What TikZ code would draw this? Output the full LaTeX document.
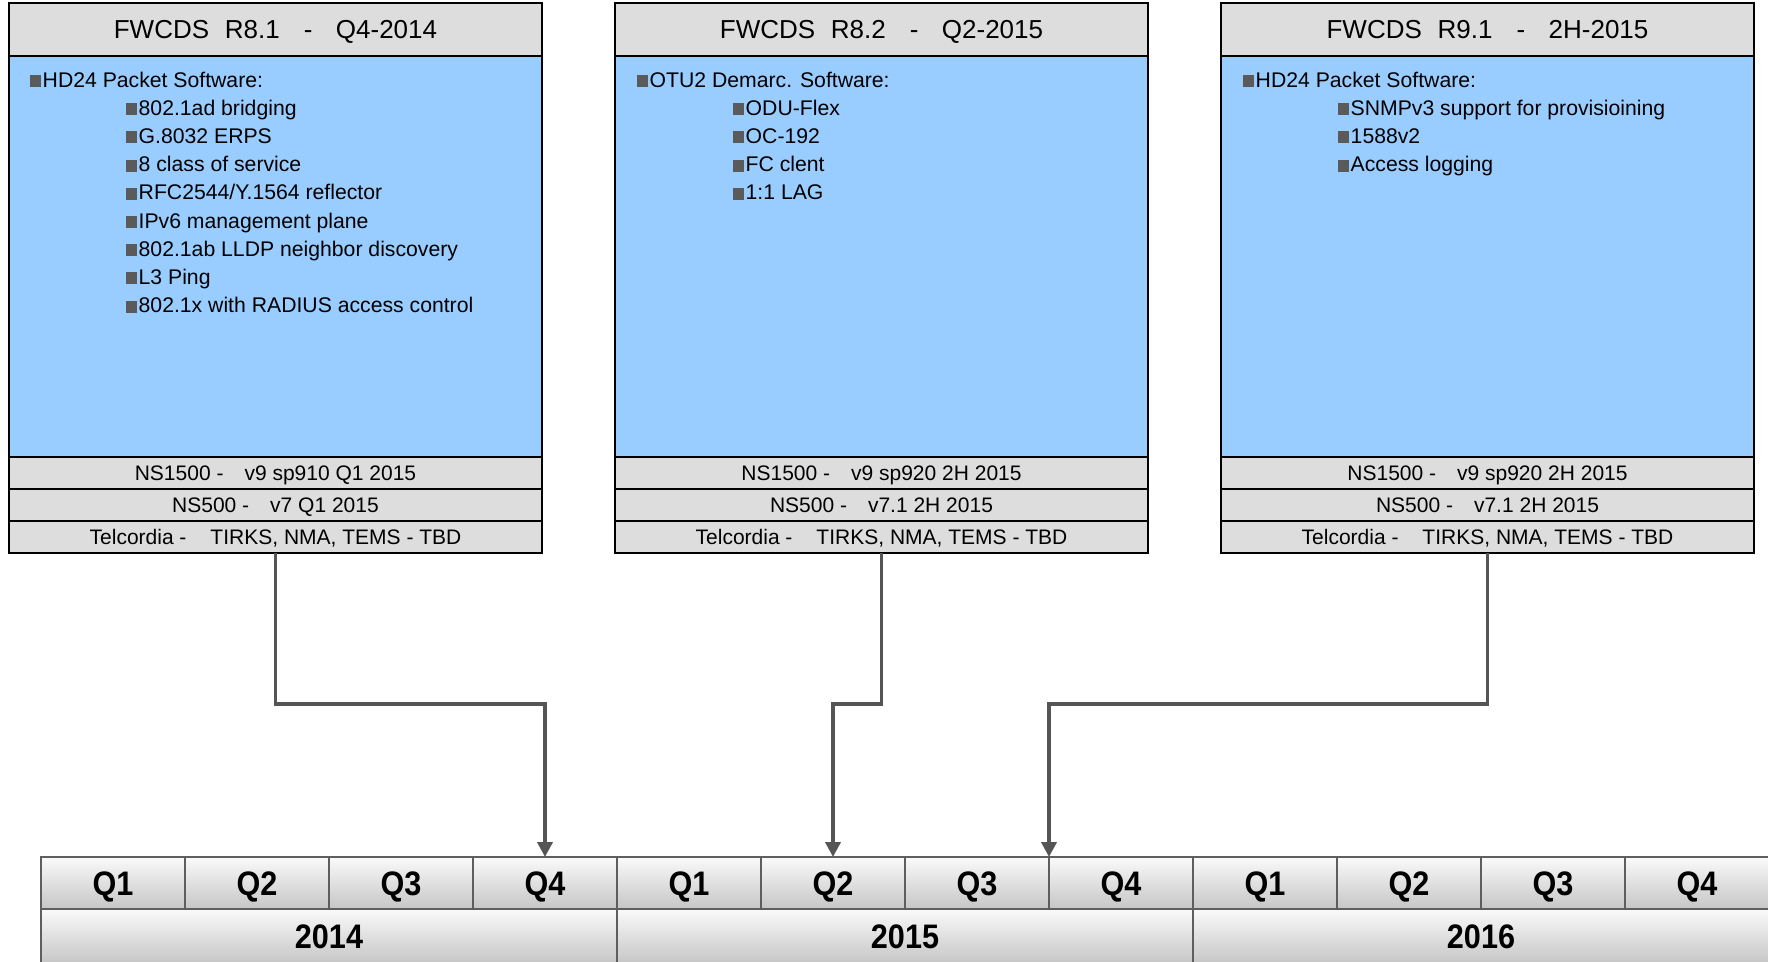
\documentclass[tikz,border=0pt]{standalone}
\usepackage{fontspec}
\setmainfont{Liberation Sans}
\usepackage{graphicx}
\usetikzlibrary{arrows.meta}
\definecolor{hdrgray}{HTML}{DDDDDD}
\definecolor{bodyblue}{HTML}{99CCFF}
\definecolor{conncol}{HTML}{555555}
\definecolor{tlgray}{HTML}{5E5E5E}
\definecolor{bulgray}{HTML}{5A5A5A}
\definecolor{celltop}{HTML}{FAFAFA}
\definecolor{cellbot}{HTML}{C6C6C6}
\newcommand{\bul}{{\color{bulgray}\rule{11pt}{12pt}}\hspace{1.5pt}}
\tikzset{
  hdr/.style={draw=black, line width=1.8pt, fill=hdrgray, minimum width=533pt, minimum height=53pt,
    inner sep=0pt, outer sep=0pt, anchor=north west, font=\fontsize{26}{30}\selectfont,
    text height=20pt, text depth=1.4pt},
  bodyrect/.style={draw=black, line width=1.8pt, fill=bodyblue, minimum width=533pt, minimum height=401pt,
    inner sep=0pt, outer sep=0pt, anchor=north west},
  rowbox/.style={draw=black, line width=1.8pt, fill=hdrgray, minimum width=533pt, minimum height=32pt,
    inner sep=0pt, outer sep=0pt, anchor=north west, font=\fontsize{21}{24}\selectfont,
    text height=15.6pt, text depth=0.6pt},
  itm/.style={anchor=base west, inner sep=0pt, font=\fontsize{21.2}{24}\selectfont},
  qcell/.style={draw=tlgray, line width=2.2pt, top color=celltop, bottom color=cellbot,
    minimum width=144pt, minimum height=52pt, inner sep=0pt, outer sep=0pt, anchor=north west,
    font=\fontsize{34}{38}\bfseries\selectfont, text height=25pt, text depth=0.7pt},
  ycell/.style={qcell, minimum width=576pt, minimum height=54pt},
  conn/.style={draw=conncol, line width=3.8pt, -{Triangle[length=15pt,width=15pt]}}
}
\newcommand{\nb}[1]{\scalebox{0.9}[1]{#1}}
\begin{document}
\begin{tikzpicture}[x=1pt,y=-1pt]
\clip (0,0) rectangle (1768,961);
\fill[white] (0,0) rectangle (1768,961);

% ---------- Box 1 ----------
\node[bodyrect] (b1) at (9,56) {};
\node[hdr] (h1) at (9,3) {FWCDS\hspace{15.7pt}R8.1\hspace{24pt}-\hspace{23.5pt}Q4-2014};
\node[rowbox] (r1a) at (9,457) {NS1500 -\hspace{21pt}v9 sp910 Q1 2015};
\node[rowbox] (r1b) at (9,489) {NS500 -\hspace{21pt}v7 Q1 2015};
\node[rowbox] (r1c) at (9,521) {Telcordia -\hspace{24pt}TIRKS, NMA, TEMS - TBD};
\node[itm] (t1) at (30,87) {\bul HD24 Packet Software:};
\foreach \t [count=\i from 1] in {802.1ad bridging, G.8032 ERPS, 8 class of service,
  RFC2544/Y.1564 reflector, IPv6 management plane, 802.1ab LLDP neighbor discovery,
  L3 Ping, 802.1x with RADIUS access control}
  \node[itm] (t1s\i) at (126,{87+28.2*\i}) {\bul\t};

% ---------- Box 2 ----------
\node[bodyrect] (b2) at (615,56) {};
\node[hdr] (h2) at (615,3) {FWCDS\hspace{15.7pt}R8.2\hspace{24pt}-\hspace{23.5pt}Q2-2015};
\node[rowbox] (r2a) at (615,457) {NS1500 -\hspace{21pt}v9 sp920 2H 2015};
\node[rowbox] (r2b) at (615,489) {NS500 -\hspace{21pt}v7.1 2H 2015};
\node[rowbox] (r2c) at (615,521) {Telcordia -\hspace{24pt}TIRKS, NMA, TEMS - TBD};
\node[itm] (t2) at (637,87) {\bul OTU2 Demarc. Software:};
\foreach \t [count=\i from 1] in {ODU-Flex, OC-192, FC clent, 1:1 LAG}
  \node[itm] (t2s\i) at (733,{87+28.2*\i}) {\bul\t};

% ---------- Box 3 ----------
\node[bodyrect] (b3) at (1221,56) {};
\node[hdr] (h3) at (1221,3) {FWCDS\hspace{15.7pt}R9.1\hspace{24pt}-\hspace{23.5pt}2H-2015};
\node[rowbox] (r3a) at (1221,457) {NS1500 -\hspace{21pt}v9 sp920 2H 2015};
\node[rowbox] (r3b) at (1221,489) {NS500 -\hspace{21pt}v7.1 2H 2015};
\node[rowbox] (r3c) at (1221,521) {Telcordia -\hspace{24pt}TIRKS, NMA, TEMS - TBD};
\node[itm] (t3) at (1243,87) {\bul HD24 Packet Software:};
\foreach \t [count=\i from 1] in {SNMPv3 support for provisioining, 1588v2, Access logging}
  \node[itm] (t3s\i) at (1338,{87+28.2*\i}) {\bul\t};

% ---------- Timeline ----------
\foreach \i in {0,...,11} {
  \pgfmathtruncatemacro{\qn}{mod(\i,4)+1}
  \node[qcell] (q\i) at ({41+144*\i},857) {\nb{Q\qn}};
}
\node[ycell] (y14) at (41,909) {\nb{2014}};
\node[ycell] (y15) at (617,909) {\nb{2015}};
\node[ycell] (y16) at (1193,909) {\nb{2016}};

% ---------- Connectors ----------
\draw[conn] (r1c.south) -- ++(0,151) -| (q3.north);
\draw[conn] (r2c.south) -- ++(0,151) -| (q5.north);
\draw[conn] (r3c.south) -- ++(0,151) -| (q6.north east);
\end{tikzpicture}
\end{document}
